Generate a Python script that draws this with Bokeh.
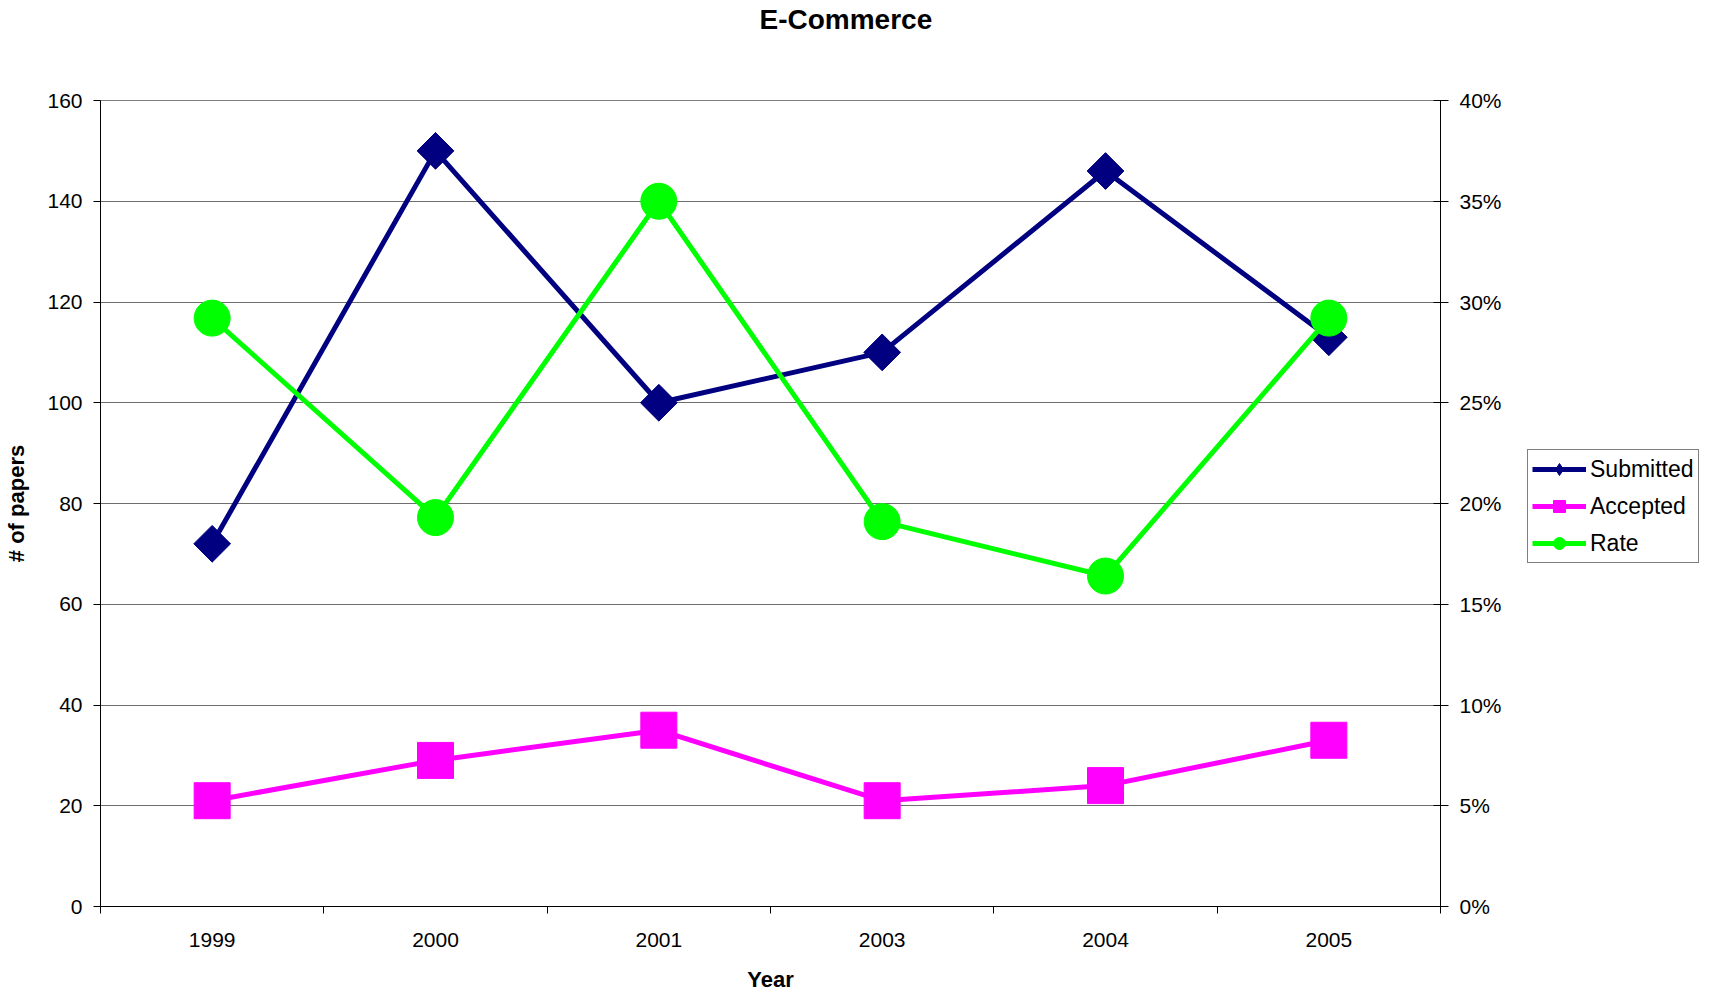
import math
from bokeh.plotting import figure
from bokeh.layouts import row
from bokeh.models import (Range1d, LinearAxis, FixedTicker, NumeralTickFormatter,
                          Legend, LegendItem, Title)
from bokeh.embed import file_html
from bokeh.resources import INLINE

# ---- data ----
years = ["1999", "2000", "2001", "2003", "2004", "2005"]
submitted = [72, 150, 100, 110, 146, 113]
accepted = [21, 29, 35, 21, 24, 33]
rate = [0.292, 0.193, 0.350, 0.191, 0.164, 0.292]
left_ticks = [0, 20, 40, 60, 80, 100, 120, 140, 160]
right_ticks = [0.0, 0.05, 0.10, 0.15, 0.20, 0.25, 0.30, 0.35, 0.40]
series_names = ["Submitted", "Accepted", "Rate"]

FONT = "Liberation Sans"
NAVY = "#000080"
MAGENTA = "#FF00FF"
GREEN = "#00FF00"

xs = [i + 0.5 for i in range(len(years))]

W_MAIN = 1520
p = figure(width=W_MAIN, height=994, output_backend="svg", toolbar_location=None,
           x_range=Range1d(0, len(years)), y_range=Range1d(0, 160),
           min_border_left=100, min_border_right=80, min_border_top=100,
           min_border_bottom=86, background_fill_color="white",
           border_fill_color="white")
p.outline_line_color = "#808080"

# title (outermost) + blank spacer title nearest the frame
p.title.text = "E-Commerce"
p.title.align = "left"
p.title.text_font = FONT
p.title.text_font_size = "28px"
p.title.text_font_style = "bold"
p.title.text_color = "black"
p.title.offset = 659
p.title.standoff = 0
spacer = Title(text=" ", text_font_size="8px", standoff=55)
p.add_layout(spacer, "above")

# grids
p.xgrid.visible = False
p.ygrid.ticker = FixedTicker(ticks=left_ticks)
p.ygrid.grid_line_color = "#6e6e6e"
p.ygrid.grid_line_width = 1

# x axis
xa = p.xaxis[0]
xa.ticker = FixedTicker(ticks=xs, minor_ticks=list(range(len(years) + 1)))
xa.major_label_overrides = {x: y for x, y in zip(xs, years)}
xa.major_tick_line_color = None
xa.major_tick_out = 0
xa.major_tick_in = 0
xa.minor_tick_line_color = "black"
xa.minor_tick_out = 7
xa.minor_tick_in = 0
xa.axis_line_color = "black"
xa.major_label_text_font = FONT
xa.major_label_text_font_size = "21px"
xa.major_label_text_color = "black"
xa.major_label_standoff = 19
xa.axis_label = "Year"
xa.axis_label_text_font = FONT
xa.axis_label_text_font_size = "22px"
xa.axis_label_text_font_style = "bold"
xa.axis_label_text_color = "black"
xa.axis_label_standoff = 17

# left axis
ya = p.yaxis[0]
ya.ticker = FixedTicker(ticks=left_ticks)
ya.minor_tick_line_color = None
ya.major_tick_out = 7
ya.major_tick_in = 0
ya.major_tick_line_color = "black"
ya.axis_line_color = "black"
ya.major_label_text_font = FONT
ya.major_label_text_font_size = "21px"
ya.major_label_text_color = "black"
ya.major_label_standoff = 11
ya.axis_label = "# of papers"
ya.axis_label_text_font = FONT
ya.axis_label_text_font_size = "22px"
ya.axis_label_text_font_style = "bold"
ya.axis_label_text_color = "black"
ya.axis_label_standoff = 15

# right axis
p.extra_y_ranges = {"rate": Range1d(0, 0.4)}
ra = LinearAxis(y_range_name="rate", ticker=FixedTicker(ticks=right_ticks),
                formatter=NumeralTickFormatter(format="0%"))
ra.minor_tick_line_color = None
ra.major_tick_in = 7
ra.major_tick_out = 8
ra.major_tick_line_color = "black"
ra.axis_line_color = "black"
ra.major_label_text_font = FONT
ra.major_label_text_font_size = "21px"
ra.major_label_text_color = "black"
ra.major_label_standoff = 11
p.add_layout(ra, "right")

series = [
    (submitted, NAVY, "square", math.pi / 4, 26, "default", "diamond"),
    (accepted, MAGENTA, "square", 0.0, 36, "default", "square"),
    (rate, GREEN, "circle", 0.0, 36, "rate", "circle"),
]

for vals, col, mk, ang, sz, rng, _ in series:
    p.line(xs, vals, line_color=col, line_width=5, line_join="round",
           y_range_name=rng)
    p.scatter(xs, vals, marker=mk, angle=ang, size=sz, fill_color=col,
              line_color=col, y_range_name=rng)

# ---- legend panel (separate small figure so the legend is not clipped) ----
# its ranges lie away from the data, so only the legend shows
p2 = figure(width=1713 - W_MAIN, height=994, output_backend="svg",
            toolbar_location=None, x_range=Range1d(-20, -19),
            y_range=Range1d(-20, -19),
            x_axis_location=None, y_axis_location=None, min_border=0,
            background_fill_color="white", border_fill_color="white")
p2.outline_line_color = None
p2.grid.visible = False
p2.title.visible = False

items = []
for name, (vals, col, mk, ang, sz, rng, lmk) in zip(series_names, series):
    lr = p2.line(xs, vals, line_color=col, line_width=5)
    sr = p2.scatter(xs, vals, marker=lmk, size=sz,
                    fill_color=col, line_color=col)
    items.append(LegendItem(label=name, renderers=[lr, sr]))

legend = Legend(items=items, location=(7, 343))
legend.label_text_font = FONT
legend.label_text_font_size = "23px"
legend.label_text_color = "black"
legend.glyph_width = 54
legend.glyph_height = 30
legend.spacing = 7
legend.padding = 4
legend.margin = 0
legend.label_standoff = 4
legend.border_line_color = "black"
legend.border_line_width = 1
legend.background_fill_color = "white"
legend.background_fill_alpha = 1
p2.add_layout(legend, "center")

layout = row(p, p2, spacing=0)
open("out.html", "w").write(file_html(layout, INLINE))
